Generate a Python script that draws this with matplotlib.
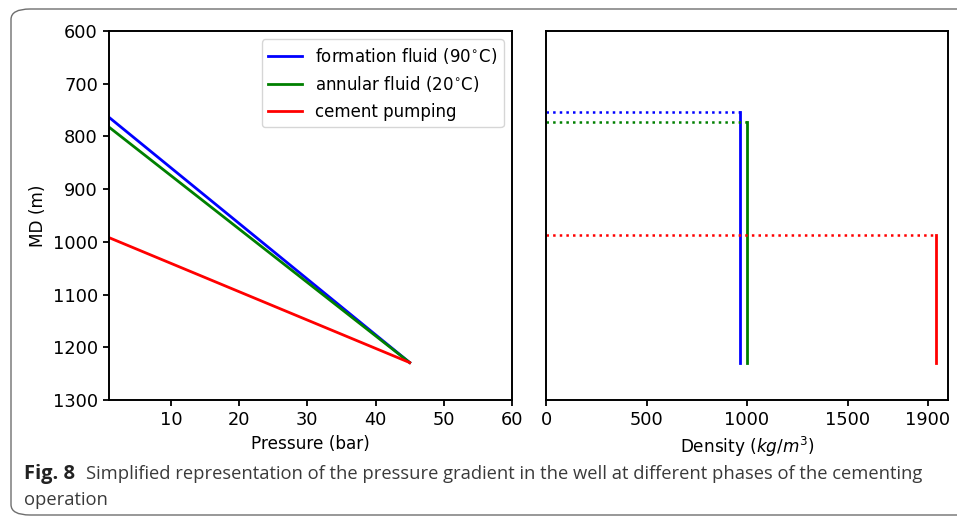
import matplotlib.pyplot as plt
from matplotlib.patches import FancyBboxPatch

# fluid columns: top of column (m MD), density (kg/m3)
labels = ['formation fluid (90$^{\\circ}$C)', 'annular fluid (20$^{\\circ}$C)', 'cement pumping']
colors = ['blue', 'green', 'red']
top_depth = [754, 773, 987]
density = [963, 998, 1940]
bottom_depth = 1229
surface_pressure = [0.0, 0.0, 0.0]
bottom_pressure = [45.0, 45.0, 45.0]
density_ticks = [0, 500, 1000, 1500, 1900]

fs = 12.2
fig = plt.figure(figsize=(9.57, 5.21), dpi=100)
W, H = 957.0, 521.0

# caption frame
frame = FancyBboxPatch((11 / W, 6 / H), 1.2, (512 - 6) / H,
                       boxstyle='round,pad=0,rounding_size=0.02',
                       transform=fig.transFigure, facecolor='none',
                       edgecolor='#6e6e6e', linewidth=1.0, clip_on=False)
fig.patches.append(frame)

ax1 = fig.add_axes([109 / W, 1 - 400 / H, (512 - 109) / W, (400 - 31) / H])
ax2 = fig.add_axes([546 / W, 1 - 400 / H, (948 - 546) / W, (400 - 31) / H], sharey=ax1)

for i in range(3):
    ax1.plot([surface_pressure[i], bottom_pressure[i]], [top_depth[i], bottom_depth],
             color=colors[i], lw=2, label=labels[i])
    ax2.plot([0, density[i]], [top_depth[i], top_depth[i]], color=colors[i], lw=1.8, ls=':')
    ax2.plot([density[i], density[i]], [top_depth[i], bottom_depth], color=colors[i], lw=2)

ax1.set_xlim(0.92, 60)
ax1.set_ylim(1300, 600)
ax1.set_xticks([10, 20, 30, 40, 50, 60])
ax1.set_xlabel('Pressure (bar)', fontsize=fs)
ax1.set_ylabel('MD (m)', fontsize=fs)
ax1.legend(loc='upper right', fontsize=12)

ax2.set_xlim(0, 2000)
ax2.set_xticks(density_ticks)
ax2.set_xlabel('Density ($kg/m^3$)', fontsize=fs)
ax2.tick_params(left=False, labelleft=False)

for ax in (ax1, ax2):
    for s in ax.spines.values():
        s.set_linewidth(1.4)
    ax.tick_params(labelsize=12.8, width=1.3, length=4.5)

fig.text(24 / W, 1 - 479 / H, 'Fig. 8', fontsize=14.5, fontweight='bold',
         family='Open Sans', color='#222222')
fig.text(86 / W, 1 - 479 / H,
         'Simplified representation of the pressure gradient in the well at different phases of the cementing',
         fontsize=13.2, family='Open Sans', color='#3a3a3a')
fig.text(24 / W, 1 - 505 / H, 'operation', fontsize=13.2, family='Open Sans', color='#3a3a3a')

fig.savefig('out.png', dpi=100)
